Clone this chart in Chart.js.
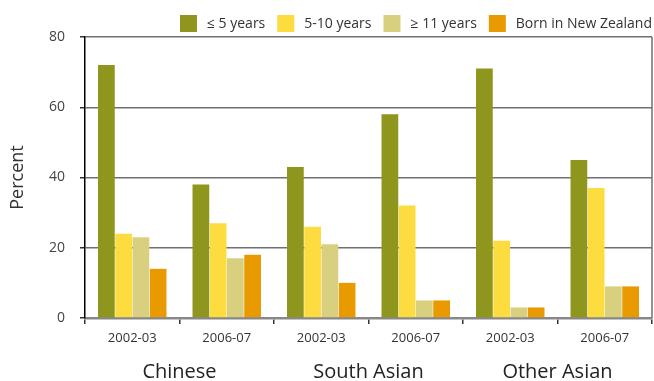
<!DOCTYPE html>
<html><head><meta charset="utf-8">
<script src="https://cdn.jsdelivr.net/npm/chart.js@4/dist/chart.umd.min.js"></script>
<style>html,body{margin:0;padding:0;background:#fff}</style>
</head><body><canvas id="c" width="654" height="381"></canvas>
<script>
const periods = ['2002-03','2006-07','2002-03','2006-07','2002-03','2006-07'];
const groups = ['Chinese','South Asian','Other Asian'];
const seriesNames = ['≤ 5 years','5-10 years','≥ 11 years','Born in New Zealand'];
const upTo5 = [72,38,43,58,71,45];
const fiveTo10 = [24,27,26,32,22,37];
const over11 = [23,17,21,5,3,9];
const bornNZ = [14,18,10,5,3,9];
const yTicks = [0,20,40,60,80];
const colors = ['#8F961E','#FDDC40','#D8D07E','#E99A00'];
const FONT = '"Open Sans", "Noto Sans", sans-serif';

const legendPlugin = {id:'customLegend', afterDraw(chart){
  const ctx = chart.ctx; ctx.save();
  ctx.font = '14px ' + FONT; ctx.textBaseline = 'middle'; ctx.textAlign = 'left';
  const box = 17, gapT = 10, gapI = 12, top = 15;
  const items = chart.data.datasets.map(d => ({text:d.label, color:d.backgroundColor}));
  let x = chart.chartArea.right;
  const pos = [];
  for (let i = items.length - 1; i >= 0; i--) {
    const w = ctx.measureText(items[i].text).width;
    const tx = x - w; const bx = tx - gapT - box;
    pos[i] = {bx, tx}; x = bx - gapI;
  }
  items.forEach((it, i) => {
    ctx.fillStyle = it.color; ctx.fillRect(pos[i].bx, top, box, box);
    ctx.fillStyle = '#333'; ctx.fillText(it.text, pos[i].tx, top + box/2 + 0.5);
  });
  ctx.restore();
}};
const framePlugin = {id:'frame', afterDatasetsDraw(chart){
  const {ctx, chartArea:a} = chart; ctx.save();
  ctx.strokeStyle = '#707070'; ctx.lineWidth = 1.5;
  ctx.beginPath(); ctx.moveTo(a.right, a.top); ctx.lineTo(a.right, a.bottom); ctx.stroke();
  ctx.restore();
}};

const series = [upTo5, fiveTo10, over11, bornNZ];
new Chart(document.getElementById('c'), {
  type:'bar',
  data:{labels:periods, datasets: series.map((d,i)=>({label:seriesNames[i], data:d, backgroundColor:colors[i], borderWidth:0, categoryPercentage:0.73, barPercentage:0.97}))},
  options:{
    responsive:false, animation:false, devicePixelRatio:1,
    layout:{padding:{top:37,right:2,left:0,bottom:0}},
    plugins:{legend:{display:false}, tooltip:{enabled:false}},
    scales:{
      x:{grid:{drawOnChartArea:false, tickLength:6, color:'#333', lineWidth:1.5, offset:true},
         border:{color:'#888', width:2.5},
         ticks:{font:{family:FONT,size:13}, color:'#333', padding:6},
         afterFit(s){ s.height = 28; }},
      grp:{type:'category', position:'bottom', labels:groups, offset:true, weight:1,
         grid:{display:false}, border:{display:false},
         ticks:{font:{family:FONT,size:20}, color:'#222', padding:6},
         afterFit(s){ s.height = 35; }},
      y:{min:0, max:80,
         afterBuildTicks(s){ s.ticks = yTicks.map(v => ({value:v})); },
         ticks:{font:{family:FONT,size:14}, color:'#444', padding:15},
         grid:{color:c => c.tick && c.tick.value === 0 ? 'rgba(0,0,0,0)' : '#707070', lineWidth:1.5, tickLength:5, tickColor:'#333'},
         border:{color:'#000', width:1.5},
         title:{display:true, text:'Percent', font:{family:FONT,size:18}, color:'#333', padding:{top:7,bottom:0}},
         afterFit(s){ s.width = 85; }}
    }
  },
  plugins:[legendPlugin, framePlugin]
});
</script></body></html>
